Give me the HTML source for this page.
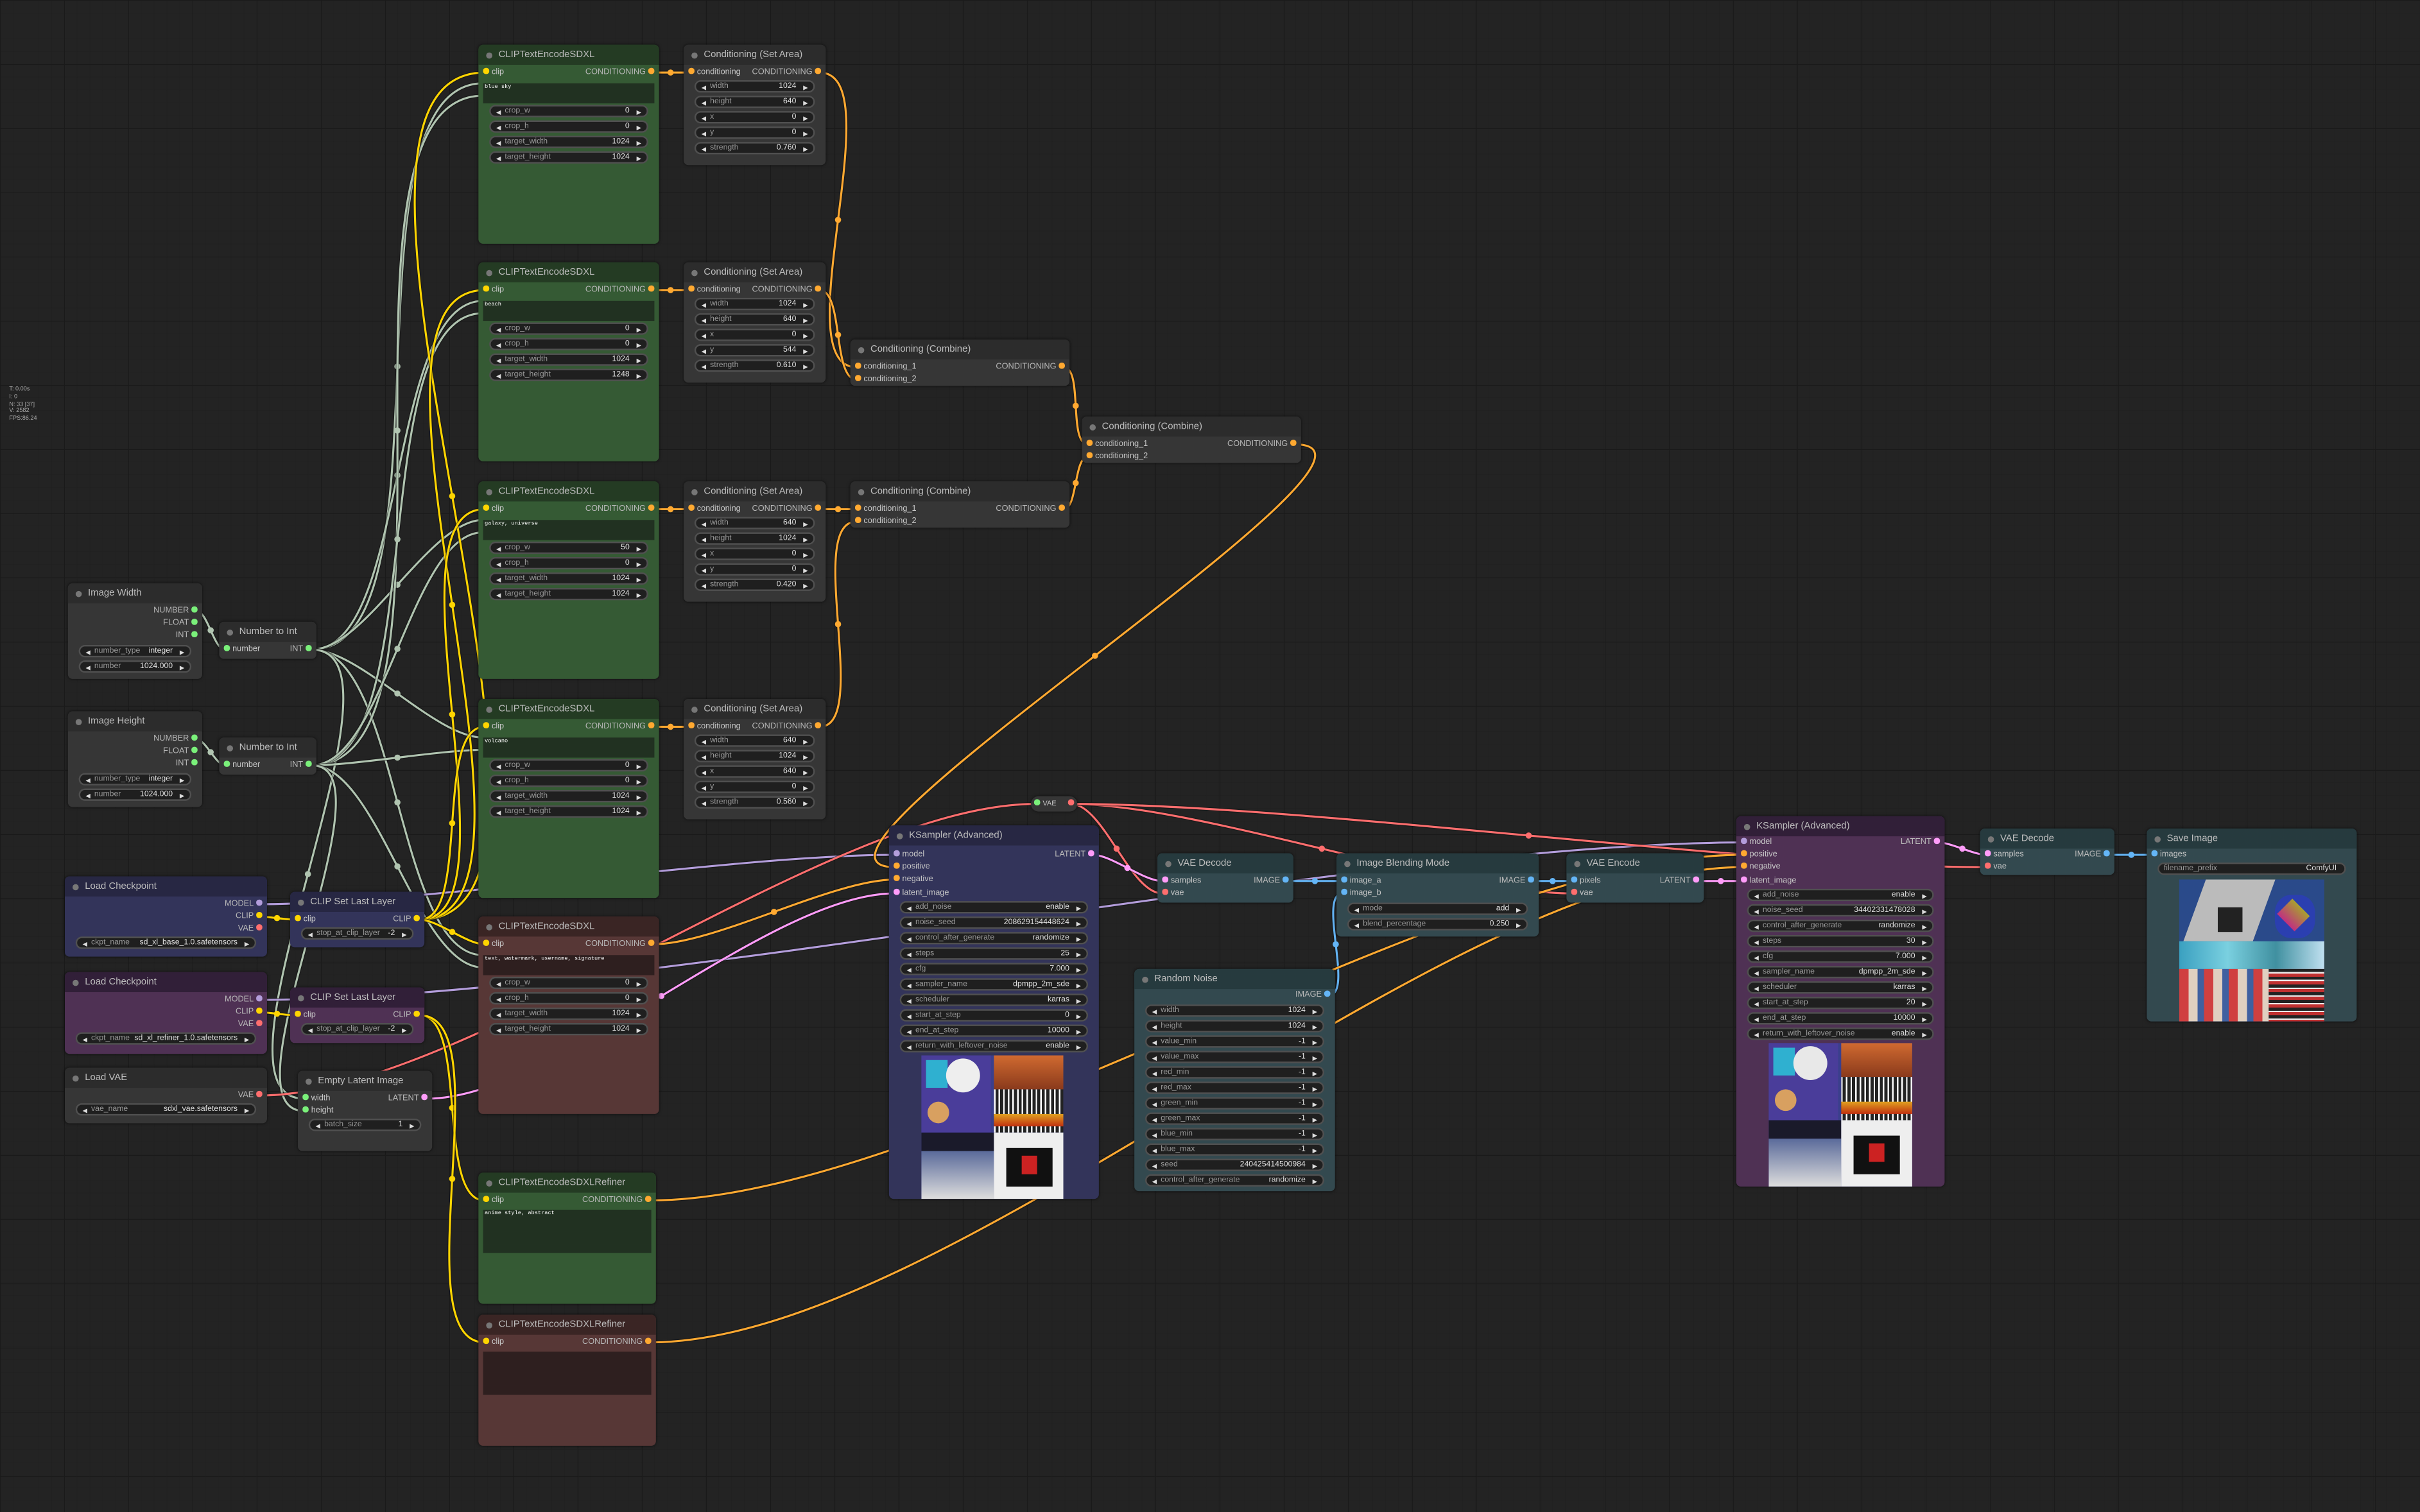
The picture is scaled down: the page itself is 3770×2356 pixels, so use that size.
<!DOCTYPE html>
<html><head><meta charset="utf-8">
<style>
html,body{margin:0;padding:0;width:3770px;height:2355px;overflow:hidden;background:#232323}
#c{position:absolute;left:0;top:0;width:1568px;height:980px;transform:scale(2.4043);transform-origin:0 0;
background-color:#232323;background-image:linear-gradient(#1a1a1a 0.5px,transparent 0.5px),linear-gradient(90deg,#1a1a1a 0.5px,transparent 0.5px),linear-gradient(#1f1f1f 0.3px,transparent 0.3px),linear-gradient(90deg,#1f1f1f 0.3px,transparent 0.3px);background-size:41.6px 41.6px,41.6px 41.6px,8.32px 8.32px,8.32px 8.32px;
font-family:"Liberation Sans",sans-serif}
svg{position:absolute;left:0;top:0}
.n{position:absolute;border-radius:3px;box-shadow:0 0 2px rgba(0,0,0,.6)}
.h{height:13px;line-height:13px;padding-left:13px;font-size:6.2px;color:#bdbdbd;border-radius:3px 3px 0 0;position:relative;white-space:nowrap}
.h:before{content:"";position:absolute;left:5px;top:4.5px;width:4px;height:4px;border-radius:50%;background:#777}
.r{position:absolute;left:3px;right:3px;height:8px;line-height:8px;font-size:5.3px;color:#c8c8c8;white-space:nowrap}
.o{position:absolute;right:0;top:0;color:#b8b8b8}
.d{display:inline-block;width:3.6px;height:3.6px;border-radius:50%;vertical-align:middle;margin:0 2px 1px 0}
.o .d{margin:0 0 1px 2px}
.Y{background:#ffd500}.O{background:#ffa931}.M{background:#b39ddb}.V{background:#ff6e6e}.L{background:#ff9cf9}.I{background:#64b5f6}.G{background:#7af07a}
.w{position:absolute;left:7px;right:7px;height:8px;border-radius:4px;background:#1f1f1f;border:.5px solid #505050;box-sizing:border-box;display:flex;align-items:center;font-size:5.1px;color:#999;padding:0 2px;white-space:nowrap}
.w b{color:#ddd;font-size:4px;font-weight:normal;padding:0 1.5px}
.w s{text-decoration:none;flex:1;padding-left:1px}
.w u{text-decoration:none;color:#e0e0e0;padding-right:3px}
.ta{position:absolute;left:3px;right:3px;background:#213121;font-family:"Liberation Mono",monospace;font-size:3.6px;color:#fff;padding:1px}
.g .h{background:#243b23}.g{background:#355a34}
.rd .h{background:#3a2524}.rd{background:#573736}
.rd .ta{background:#2e1f1f}
.b .h{background:#272743}.b{background:#33345a}
.p .h{background:#311f38}.p{background:#4f3154}
.t .h{background:#263a3e}.t{background:#33494f}
.k .h{background:#2c2c2c}.k{background:#363636}
.pic{position:absolute;overflow:hidden}
.pic i{position:absolute;display:block}
#st{position:absolute;left:6px;top:250px;font-size:3.8px;line-height:4.8px;color:#aaa}
</style></head><body>
<div id="c">
<svg id="lk" width="1568" height="980" viewBox="0 0 1568 980"></svg>
<div id="st">T: 0.00s<br>I: 0<br>N: 33 [37]<br>V: 2582<br>FPS:86.24</div>

<div class="n g" style="left:310px;top:29px;width:117px;height:129px"><div class="h">CLIPTextEncodeSDXL</div>
<div class="r" style="top:14px"><i class="d Y"></i>clip<span class="o">CONDITIONING<i class="d O"></i></span></div>
<div class="ta" style="top:25px;height:11px">blue sky</div>
<div class="w" style="top:39px"><b>◀</b><s>crop_w</s><u>0</u><b>▶</b></div>
<div class="w" style="top:49px"><b>◀</b><s>crop_h</s><u>0</u><b>▶</b></div>
<div class="w" style="top:59px"><b>◀</b><s>target_width</s><u>1024</u><b>▶</b></div>
<div class="w" style="top:69px"><b>◀</b><s>target_height</s><u>1024</u><b>▶</b></div></div>
<div class="n g" style="left:310px;top:170px;width:117px;height:129px"><div class="h">CLIPTextEncodeSDXL</div>
<div class="r" style="top:14px"><i class="d Y"></i>clip<span class="o">CONDITIONING<i class="d O"></i></span></div>
<div class="ta" style="top:25px;height:11px">beach</div>
<div class="w" style="top:39px"><b>◀</b><s>crop_w</s><u>0</u><b>▶</b></div>
<div class="w" style="top:49px"><b>◀</b><s>crop_h</s><u>0</u><b>▶</b></div>
<div class="w" style="top:59px"><b>◀</b><s>target_width</s><u>1024</u><b>▶</b></div>
<div class="w" style="top:69px"><b>◀</b><s>target_height</s><u>1248</u><b>▶</b></div></div>
<div class="n g" style="left:310px;top:312px;width:117px;height:128px"><div class="h">CLIPTextEncodeSDXL</div>
<div class="r" style="top:14px"><i class="d Y"></i>clip<span class="o">CONDITIONING<i class="d O"></i></span></div>
<div class="ta" style="top:25px;height:11px">galaxy, universe</div>
<div class="w" style="top:39px"><b>◀</b><s>crop_w</s><u>50</u><b>▶</b></div>
<div class="w" style="top:49px"><b>◀</b><s>crop_h</s><u>0</u><b>▶</b></div>
<div class="w" style="top:59px"><b>◀</b><s>target_width</s><u>1024</u><b>▶</b></div>
<div class="w" style="top:69px"><b>◀</b><s>target_height</s><u>1024</u><b>▶</b></div></div>
<div class="n g" style="left:310px;top:453px;width:117px;height:129px"><div class="h">CLIPTextEncodeSDXL</div>
<div class="r" style="top:14px"><i class="d Y"></i>clip<span class="o">CONDITIONING<i class="d O"></i></span></div>
<div class="ta" style="top:25px;height:11px">volcano</div>
<div class="w" style="top:39px"><b>◀</b><s>crop_w</s><u>0</u><b>▶</b></div>
<div class="w" style="top:49px"><b>◀</b><s>crop_h</s><u>0</u><b>▶</b></div>
<div class="w" style="top:59px"><b>◀</b><s>target_width</s><u>1024</u><b>▶</b></div>
<div class="w" style="top:69px"><b>◀</b><s>target_height</s><u>1024</u><b>▶</b></div></div>
<div class="n rd" style="left:310px;top:594px;width:117px;height:128px"><div class="h">CLIPTextEncodeSDXL</div>
<div class="r" style="top:14px"><i class="d Y"></i>clip<span class="o">CONDITIONING<i class="d O"></i></span></div>
<div class="ta" style="top:25px;height:11px">text, watermark, username, signature</div>
<div class="w" style="top:39px"><b>◀</b><s>crop_w</s><u>0</u><b>▶</b></div>
<div class="w" style="top:49px"><b>◀</b><s>crop_h</s><u>0</u><b>▶</b></div>
<div class="w" style="top:59px"><b>◀</b><s>target_width</s><u>1024</u><b>▶</b></div>
<div class="w" style="top:69px"><b>◀</b><s>target_height</s><u>1024</u><b>▶</b></div></div>

<div class="n k" style="left:443px;top:29px;width:92px;height:78px"><div class="h">Conditioning (Set Area)</div>
<div class="r" style="top:14px"><i class="d O"></i>conditioning<span class="o">CONDITIONING<i class="d O"></i></span></div>
<div class="w" style="top:23px"><b>◀</b><s>width</s><u>1024</u><b>▶</b></div>
<div class="w" style="top:33px"><b>◀</b><s>height</s><u>640</u><b>▶</b></div>
<div class="w" style="top:43px"><b>◀</b><s>x</s><u>0</u><b>▶</b></div>
<div class="w" style="top:53px"><b>◀</b><s>y</s><u>0</u><b>▶</b></div>
<div class="w" style="top:63px"><b>◀</b><s>strength</s><u>0.760</u><b>▶</b></div></div>
<div class="n k" style="left:443px;top:170px;width:92px;height:78px"><div class="h">Conditioning (Set Area)</div>
<div class="r" style="top:14px"><i class="d O"></i>conditioning<span class="o">CONDITIONING<i class="d O"></i></span></div>
<div class="w" style="top:23px"><b>◀</b><s>width</s><u>1024</u><b>▶</b></div>
<div class="w" style="top:33px"><b>◀</b><s>height</s><u>640</u><b>▶</b></div>
<div class="w" style="top:43px"><b>◀</b><s>x</s><u>0</u><b>▶</b></div>
<div class="w" style="top:53px"><b>◀</b><s>y</s><u>544</u><b>▶</b></div>
<div class="w" style="top:63px"><b>◀</b><s>strength</s><u>0.610</u><b>▶</b></div></div>
<div class="n k" style="left:443px;top:312px;width:92px;height:78px"><div class="h">Conditioning (Set Area)</div>
<div class="r" style="top:14px"><i class="d O"></i>conditioning<span class="o">CONDITIONING<i class="d O"></i></span></div>
<div class="w" style="top:23px"><b>◀</b><s>width</s><u>640</u><b>▶</b></div>
<div class="w" style="top:33px"><b>◀</b><s>height</s><u>1024</u><b>▶</b></div>
<div class="w" style="top:43px"><b>◀</b><s>x</s><u>0</u><b>▶</b></div>
<div class="w" style="top:53px"><b>◀</b><s>y</s><u>0</u><b>▶</b></div>
<div class="w" style="top:63px"><b>◀</b><s>strength</s><u>0.420</u><b>▶</b></div></div>
<div class="n k" style="left:443px;top:453px;width:92px;height:78px"><div class="h">Conditioning (Set Area)</div>
<div class="r" style="top:14px"><i class="d O"></i>conditioning<span class="o">CONDITIONING<i class="d O"></i></span></div>
<div class="w" style="top:23px"><b>◀</b><s>width</s><u>640</u><b>▶</b></div>
<div class="w" style="top:33px"><b>◀</b><s>height</s><u>1024</u><b>▶</b></div>
<div class="w" style="top:43px"><b>◀</b><s>x</s><u>640</u><b>▶</b></div>
<div class="w" style="top:53px"><b>◀</b><s>y</s><u>0</u><b>▶</b></div>
<div class="w" style="top:63px"><b>◀</b><s>strength</s><u>0.560</u><b>▶</b></div></div>

<div class="n k" style="left:551px;top:220px;width:142px;height:30px"><div class="h">Conditioning (Combine)</div>
<div class="r" style="top:14px"><i class="d O"></i>conditioning_1<span class="o">CONDITIONING<i class="d O"></i></span></div>
<div class="r" style="top:22px"><i class="d O"></i>conditioning_2</div></div>
<div class="n k" style="left:551px;top:312px;width:142px;height:30px"><div class="h">Conditioning (Combine)</div>
<div class="r" style="top:14px"><i class="d O"></i>conditioning_1<span class="o">CONDITIONING<i class="d O"></i></span></div>
<div class="r" style="top:22px"><i class="d O"></i>conditioning_2</div></div>
<div class="n k" style="left:701px;top:270px;width:142px;height:30px"><div class="h">Conditioning (Combine)</div>
<div class="r" style="top:14px"><i class="d O"></i>conditioning_1<span class="o">CONDITIONING<i class="d O"></i></span></div>
<div class="r" style="top:22px"><i class="d O"></i>conditioning_2</div></div>

<div class="n k" style="left:44px;top:378px;width:87px;height:62px"><div class="h">Image Width</div>
<div class="r" style="top:14px"><span class="o">NUMBER<i class="d G"></i></span></div>
<div class="r" style="top:22px"><span class="o">FLOAT<i class="d G"></i></span></div>
<div class="r" style="top:30px"><span class="o">INT<i class="d G"></i></span></div>
<div class="w" style="top:40px"><b>◀</b><s>number_type</s><u>integer</u><b>▶</b></div>
<div class="w" style="top:50px"><b>◀</b><s>number</s><u>1024.000</u><b>▶</b></div></div>
<div class="n k" style="left:142px;top:403px;width:63px;height:24px"><div class="h">Number to Int</div>
<div class="r" style="top:14px"><i class="d G"></i>number<span class="o">INT<i class="d G"></i></span></div></div>
<div class="n k" style="left:44px;top:461px;width:87px;height:62px"><div class="h">Image Height</div>
<div class="r" style="top:14px"><span class="o">NUMBER<i class="d G"></i></span></div>
<div class="r" style="top:22px"><span class="o">FLOAT<i class="d G"></i></span></div>
<div class="r" style="top:30px"><span class="o">INT<i class="d G"></i></span></div>
<div class="w" style="top:40px"><b>◀</b><s>number_type</s><u>integer</u><b>▶</b></div>
<div class="w" style="top:50px"><b>◀</b><s>number</s><u>1024.000</u><b>▶</b></div></div>
<div class="n k" style="left:142px;top:478px;width:63px;height:24px"><div class="h">Number to Int</div>
<div class="r" style="top:14px"><i class="d G"></i>number<span class="o">INT<i class="d G"></i></span></div></div>

<div class="n b" style="left:42px;top:568px;width:131px;height:52px"><div class="h">Load Checkpoint</div>
<div class="r" style="top:14px"><span class="o">MODEL<i class="d M"></i></span></div>
<div class="r" style="top:22px"><span class="o">CLIP<i class="d Y"></i></span></div>
<div class="r" style="top:30px"><span class="o">VAE<i class="d V"></i></span></div>
<div class="w" style="top:39px"><b>◀</b><s>ckpt_name</s><u>sd_xl_base_1.0.safetensors</u><b>▶</b></div></div>
<div class="n b" style="left:188px;top:578px;width:87px;height:36px"><div class="h">CLIP Set Last Layer</div>
<div class="r" style="top:14px"><i class="d Y"></i>clip<span class="o">CLIP<i class="d Y"></i></span></div>
<div class="w" style="top:23px"><b>◀</b><s>stop_at_clip_layer</s><u>-2</u><b>▶</b></div></div>
<div class="n p" style="left:42px;top:630px;width:131px;height:53px"><div class="h">Load Checkpoint</div>
<div class="r" style="top:14px"><span class="o">MODEL<i class="d M"></i></span></div>
<div class="r" style="top:22px"><span class="o">CLIP<i class="d Y"></i></span></div>
<div class="r" style="top:30px"><span class="o">VAE<i class="d V"></i></span></div>
<div class="w" style="top:39px"><b>◀</b><s>ckpt_name</s><u>sd_xl_refiner_1.0.safetensors</u><b>▶</b></div></div>
<div class="n p" style="left:188px;top:640px;width:87px;height:36px"><div class="h">CLIP Set Last Layer</div>
<div class="r" style="top:14px"><i class="d Y"></i>clip<span class="o">CLIP<i class="d Y"></i></span></div>
<div class="w" style="top:23px"><b>◀</b><s>stop_at_clip_layer</s><u>-2</u><b>▶</b></div></div>
<div class="n k" style="left:42px;top:692px;width:131px;height:36px"><div class="h">Load VAE</div>
<div class="r" style="top:14px"><span class="o">VAE<i class="d V"></i></span></div>
<div class="w" style="top:23px"><b>◀</b><s>vae_name</s><u>sdxl_vae.safetensors</u><b>▶</b></div></div>
<div class="n k" style="left:193px;top:694px;width:87px;height:52px"><div class="h">Empty Latent Image</div>
<div class="r" style="top:14px"><i class="d G"></i>width<span class="o">LATENT<i class="d L"></i></span></div>
<div class="r" style="top:22px"><i class="d G"></i>height</div>
<div class="w" style="top:31px"><b>◀</b><s>batch_size</s><u>1</u><b>▶</b></div></div>

<div class="n g" style="left:310px;top:760px;width:115px;height:85px"><div class="h">CLIPTextEncodeSDXLRefiner</div>
<div class="r" style="top:14px"><i class="d Y"></i>clip<span class="o">CONDITIONING<i class="d O"></i></span></div>
<div class="ta" style="top:24px;height:26px">anime style, abstract</div></div>
<div class="n rd" style="left:310px;top:852px;width:115px;height:85px"><div class="h">CLIPTextEncodeSDXLRefiner</div>
<div class="r" style="top:14px"><i class="d Y"></i>clip<span class="o">CONDITIONING<i class="d O"></i></span></div>
<div class="ta" style="top:24px;height:26px"></div></div>

<div class="n k" style="left:668px;top:516px;width:30px;height:10px;border-radius:5px"><div class="r" style="top:1px;left:2px;right:2px;font-size:4.6px"><i class="d G"></i>VAE<span class="o"><i class="d V"></i></span></div></div>

<div class="n b" style="left:576px;top:535px;width:136px;height:242px"><div class="h">KSampler (Advanced)</div>
<div class="r" style="top:15px"><i class="d M"></i>model<span class="o">LATENT<i class="d L"></i></span></div>
<div class="r" style="top:23px"><i class="d O"></i>positive</div>
<div class="r" style="top:31px"><i class="d O"></i>negative</div>
<div class="r" style="top:40px"><i class="d L"></i>latent_image</div>
<div class="w" style="top:49px"><b>◀</b><s>add_noise</s><u>enable</u><b>▶</b></div>
<div class="w" style="top:59px"><b>◀</b><s>noise_seed</s><u>208629154448624</u><b>▶</b></div>
<div class="w" style="top:69px"><b>◀</b><s>control_after_generate</s><u>randomize</u><b>▶</b></div>
<div class="w" style="top:79px"><b>◀</b><s>steps</s><u>25</u><b>▶</b></div>
<div class="w" style="top:89px"><b>◀</b><s>cfg</s><u>7.000</u><b>▶</b></div>
<div class="w" style="top:99px"><b>◀</b><s>sampler_name</s><u>dpmpp_2m_sde</u><b>▶</b></div>
<div class="w" style="top:109px"><b>◀</b><s>scheduler</s><u>karras</u><b>▶</b></div>
<div class="w" style="top:119px"><b>◀</b><s>start_at_step</s><u>0</u><b>▶</b></div>
<div class="w" style="top:129px"><b>◀</b><s>end_at_step</s><u>10000</u><b>▶</b></div>
<div class="w" style="top:139px"><b>◀</b><s>return_with_leftover_noise</s><u>enable</u><b>▶</b></div>
<div class="pic" style="left:21px;top:149px;width:92px;height:93px;background:#3b3f8c">
<i style="left:0;top:0;width:45px;height:50px;background:#4a3d9a"></i>
<i style="left:3px;top:3px;width:14px;height:18px;background:#2fb0d0"></i>
<i style="left:16px;top:2px;width:22px;height:22px;border-radius:50%;background:#eee"></i>
<i style="left:47px;top:0;width:45px;height:22px;background:linear-gradient(#d06a30,#8a3a1c)"></i>
<i style="left:47px;top:22px;width:45px;height:28px;background:repeating-linear-gradient(90deg,#fff 0 1px,#222 1px 3px)"></i>
<i style="left:47px;top:38px;width:45px;height:8px;background:linear-gradient(#e0a020,#c03010)"></i>
<i style="left:4px;top:30px;width:14px;height:14px;border-radius:50%;background:#d8a060"></i>
<i style="left:0;top:50px;width:47px;height:12px;background:#1a1a2a"></i>
<i style="left:0;top:62px;width:47px;height:31px;background:linear-gradient(#5a6a9a,#ddd)"></i>
<i style="left:47px;top:50px;width:45px;height:43px;background:#eee"></i>
<i style="left:55px;top:60px;width:30px;height:25px;background:#111"></i>
<i style="left:65px;top:65px;width:10px;height:12px;background:#c22"></i></div></div>

<div class="n t" style="left:750px;top:553px;width:88px;height:32px"><div class="h">VAE Decode</div>
<div class="r" style="top:14px"><i class="d L"></i>samples<span class="o">IMAGE<i class="d I"></i></span></div>
<div class="r" style="top:22px"><i class="d V"></i>vae</div></div>

<div class="n t" style="left:735px;top:628px;width:130px;height:144px"><div class="h">Random Noise</div>
<div class="r" style="top:13px"><span class="o">IMAGE<i class="d I"></i></span></div>
<div class="w" style="top:23px"><b>◀</b><s>width</s><u>1024</u><b>▶</b></div>
<div class="w" style="top:33px"><b>◀</b><s>height</s><u>1024</u><b>▶</b></div>
<div class="w" style="top:43px"><b>◀</b><s>value_min</s><u>-1</u><b>▶</b></div>
<div class="w" style="top:53px"><b>◀</b><s>value_max</s><u>-1</u><b>▶</b></div>
<div class="w" style="top:63px"><b>◀</b><s>red_min</s><u>-1</u><b>▶</b></div>
<div class="w" style="top:73px"><b>◀</b><s>red_max</s><u>-1</u><b>▶</b></div>
<div class="w" style="top:83px"><b>◀</b><s>green_min</s><u>-1</u><b>▶</b></div>
<div class="w" style="top:93px"><b>◀</b><s>green_max</s><u>-1</u><b>▶</b></div>
<div class="w" style="top:103px"><b>◀</b><s>blue_min</s><u>-1</u><b>▶</b></div>
<div class="w" style="top:113px"><b>◀</b><s>blue_max</s><u>-1</u><b>▶</b></div>
<div class="w" style="top:123px"><b>◀</b><s>seed</s><u>240425414500984</u><b>▶</b></div>
<div class="w" style="top:133px"><b>◀</b><s>control_after_generate</s><u>randomize</u><b>▶</b></div></div>

<div class="n t" style="left:866px;top:553px;width:131px;height:54px"><div class="h">Image Blending Mode</div>
<div class="r" style="top:14px"><i class="d I"></i>image_a<span class="o">IMAGE<i class="d I"></i></span></div>
<div class="r" style="top:22px"><i class="d I"></i>image_b</div>
<div class="w" style="top:32px"><b>◀</b><s>mode</s><u>add</u><b>▶</b></div>
<div class="w" style="top:42px"><b>◀</b><s>blend_percentage</s><u>0.250</u><b>▶</b></div></div>

<div class="n t" style="left:1015px;top:553px;width:89px;height:32px"><div class="h">VAE Encode</div>
<div class="r" style="top:14px"><i class="d I"></i>pixels<span class="o">LATENT<i class="d L"></i></span></div>
<div class="r" style="top:22px"><i class="d V"></i>vae</div></div>

<div class="n p" style="left:1125px;top:529px;width:135px;height:240px"><div class="h">KSampler (Advanced)</div>
<div class="r" style="top:13px"><i class="d M"></i>model<span class="o">LATENT<i class="d L"></i></span></div>
<div class="r" style="top:21px"><i class="d O"></i>positive</div>
<div class="r" style="top:29px"><i class="d O"></i>negative</div>
<div class="r" style="top:38px"><i class="d L"></i>latent_image</div>
<div class="w" style="top:47px"><b>◀</b><s>add_noise</s><u>enable</u><b>▶</b></div>
<div class="w" style="top:57px"><b>◀</b><s>noise_seed</s><u>34402331478028</u><b>▶</b></div>
<div class="w" style="top:67px"><b>◀</b><s>control_after_generate</s><u>randomize</u><b>▶</b></div>
<div class="w" style="top:77px"><b>◀</b><s>steps</s><u>30</u><b>▶</b></div>
<div class="w" style="top:87px"><b>◀</b><s>cfg</s><u>7.000</u><b>▶</b></div>
<div class="w" style="top:97px"><b>◀</b><s>sampler_name</s><u>dpmpp_2m_sde</u><b>▶</b></div>
<div class="w" style="top:107px"><b>◀</b><s>scheduler</s><u>karras</u><b>▶</b></div>
<div class="w" style="top:117px"><b>◀</b><s>start_at_step</s><u>20</u><b>▶</b></div>
<div class="w" style="top:127px"><b>◀</b><s>end_at_step</s><u>10000</u><b>▶</b></div>
<div class="w" style="top:137px"><b>◀</b><s>return_with_leftover_noise</s><u>enable</u><b>▶</b></div>
<div class="pic" style="left:21px;top:147px;width:93px;height:93px;background:#3b3f8c">
<i style="left:0;top:0;width:45px;height:50px;background:#4a3d9a"></i>
<i style="left:3px;top:3px;width:14px;height:18px;background:#2fb0d0"></i>
<i style="left:16px;top:2px;width:22px;height:22px;border-radius:50%;background:#e8e8e8"></i>
<i style="left:47px;top:0;width:46px;height:22px;background:linear-gradient(#d06a30,#8a3a1c)"></i>
<i style="left:47px;top:22px;width:46px;height:28px;background:repeating-linear-gradient(90deg,#fff 0 1px,#222 1px 3px)"></i>
<i style="left:47px;top:38px;width:46px;height:8px;background:linear-gradient(#e0a020,#c03010)"></i>
<i style="left:4px;top:30px;width:14px;height:14px;border-radius:50%;background:#d8a060"></i>
<i style="left:0;top:50px;width:47px;height:12px;background:#1a1a2a"></i>
<i style="left:0;top:62px;width:47px;height:31px;background:linear-gradient(#5a6a9a,#ddd)"></i>
<i style="left:47px;top:50px;width:46px;height:43px;background:#eee"></i>
<i style="left:55px;top:60px;width:30px;height:25px;background:#111"></i>
<i style="left:65px;top:65px;width:10px;height:12px;background:#c22"></i></div></div>

<div class="n t" style="left:1283px;top:537px;width:87px;height:30px"><div class="h">VAE Decode</div>
<div class="r" style="top:13px"><i class="d L"></i>samples<span class="o">IMAGE<i class="d I"></i></span></div>
<div class="r" style="top:21px"><i class="d V"></i>vae</div></div>

<div class="n t" style="left:1391px;top:537px;width:136px;height:125px"><div class="h">Save Image</div>
<div class="r" style="top:13px"><i class="d I"></i>images</div>
<div class="w" style="top:22px"><s>filename_prefix</s><u>ComfyUI</u></div>
<div class="pic" style="left:21px;top:33px;width:94px;height:92px;background:#2a4a8a">
<i style="left:10px;top:0;width:45px;height:40px;background:#bbb;transform:skewX(-20deg)"></i>
<i style="left:25px;top:18px;width:16px;height:16px;background:#222"></i>
<i style="left:62px;top:10px;width:26px;height:28px;background:#2b3fb0;border-radius:40%"></i>
<i style="left:66px;top:16px;width:16px;height:14px;background:linear-gradient(#a8a030,#c03080);transform:rotate(45deg)"></i>
<i style="left:0;top:40px;width:94px;height:18px;background:linear-gradient(90deg,#3aa0c0,#7ad0e0,#4090a0,#c0e0f0)"></i>
<i style="left:0;top:58px;width:58px;height:34px;background:repeating-linear-gradient(90deg,#d04040 0 6px,#e0d0c0 6px 12px,#4060a0 12px 16px)"></i>
<i style="left:58px;top:58px;width:36px;height:34px;background:repeating-linear-gradient(#222 0 2px,#eee 2px 3px,#c03030 3px 5px)"></i></div></div>
</div>
<script>
var Y="#ffd500",O="#ffa931",M="#b39ddb",V="#ff6e6e",L="#ff9cf9",I="#64b5f6",G="#b0c4b0";
var links=[
[127,396,146,421,G],[127,479,146,496,G],
[202,421,313,54,G],[202,421,313,195,G],[202,421,313,337,G],[202,421,313,478,G],[202,421,313,619,G],[202,421,197,712,G],
[202,496,313,62,G],[202,496,313,203,G],[202,496,313,345,G],[202,496,313,486,G],[202,496,313,627,G],[202,496,197,720,G],
[168,586,580,554,M],[168,648,1129,546,M],
[168,710,671,521,V],[694,521,753,579,V],[694,521,1019,579,V],[694,521,1287,562,V],
[277,712,580,579,L],[708,554,753,571,L],[1101,571,1129,571,L],[1256,546,1287,554,L],
[834,571,870,571,I],[861,645,870,579,I],[993,571,1019,571,I],[1367,554,1395,554,I],
[423,47,446,47,O],[423,188,446,188,O],[423,330,446,330,O],[423,471,446,471,O],
[531,47,555,238,O],[531,188,555,246,O],[531,330,555,330,O],[531,471,555,338,O],
[689,238,705,288,O],[689,330,705,296,O],
[839,288,580,562,O],[423,612,580,570,O],[421,778,1129,554,O],[421,870,1129,562,O],
[168,594,191,596,Y],[168,656,191,658,Y],
[272,596,314,47,Y],[272,596,314,188,Y],[272,596,314,330,Y],[272,596,314,471,Y],[272,596,314,612,Y],
[272,658,314,778,Y],[272,658,314,870,Y]
];
var s="";
links.forEach(function(l){
var x1=l[0],y1=l[1],x2=l[2],y2=l[3],c=l[4];
var d=Math.sqrt((x2-x1)*(x2-x1)+(y2-y1)*(y2-y1))*0.25;
var cx1=x1+d,cx2=x2-d;
s+='<path d="M'+x1+' '+y1+' C'+cx1+' '+y1+','+cx2+' '+y2+','+x2+' '+y2+'" fill="none" stroke="#111" stroke-width="2.4" opacity=".5"/>';
s+='<path d="M'+x1+' '+y1+' C'+cx1+' '+y1+','+cx2+' '+y2+','+x2+' '+y2+'" fill="none" stroke="'+c+'" stroke-width="1.3"/>';
var mx=(x1+3*cx1+3*cx2+x2)/8,my=(y1+3*y1+3*y2+y2)/8;
s+='<circle cx="'+mx+'" cy="'+my+'" r="2" fill="'+c+'"/>';
});
document.getElementById("lk").innerHTML=s;
</script>
</body></html>
